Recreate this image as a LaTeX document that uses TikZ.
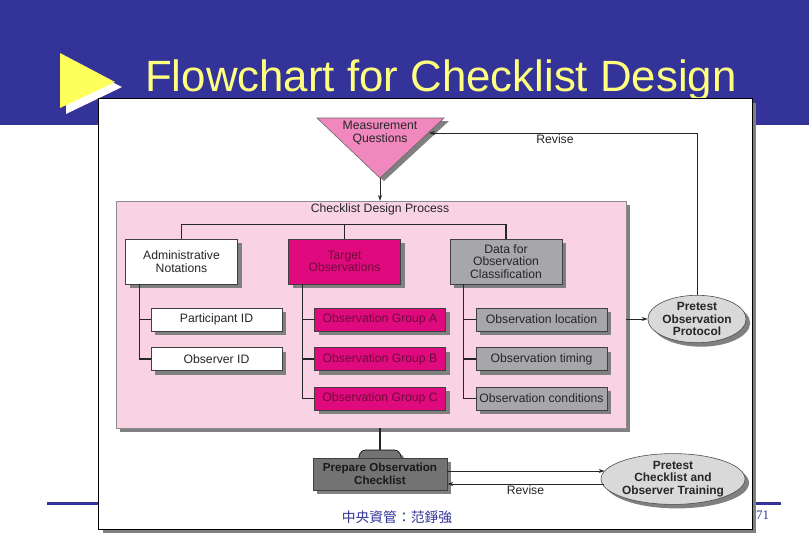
\documentclass[tikz,border=0pt]{standalone}
\usepackage{fontspec}
\setmainfont{Liberation Sans}
\newfontfamily\cjkfont{Noto Sans CJK TC}
\newfontfamily\pagefont{Liberation Serif}
\usetikzlibrary{shapes.geometric,shadows,arrows.meta}

\definecolor{slideblue}{HTML}{333399}
\definecolor{titleyellow}{HTML}{FFFF80}
\definecolor{arrowyellow}{HTML}{FFFF5C}
\definecolor{questpink}{HTML}{F088BE}
\definecolor{procpink}{HTML}{F9D3E4}
\definecolor{targetmag}{HTML}{DE0A7E}
\definecolor{targettext}{HTML}{6E0A38}
\definecolor{datagray}{HTML}{A7A7AB}
\definecolor{pretestgray}{HTML}{D9D9D9}
\definecolor{preparegray}{HTML}{737373}
\definecolor{shadegray}{HTML}{808080}

\begin{document}
\begin{tikzpicture}[x=1pt,y=-1pt,font=\fontsize{12.2}{12.6}\selectfont,
	shad/.style={drop shadow={shadow xshift=4pt,shadow yshift=-4pt,fill=shadegray,opacity=1}},
	box/.style={draw=black!75,line width=0.6pt,inner sep=0pt,align=center,text=black!85,shad},
	adminbox/.style={box,fill=white,minimum width=131pt,minimum height=23pt},
	targetbox/.style={box,fill=targetmag,text=targettext,minimum width=131pt,minimum height=23pt},
	databox/.style={box,fill=datagray,minimum width=131pt,minimum height=23pt},
	headbox/.style={minimum width=112pt,minimum height=45pt},
	pretest/.style={ellipse,draw=black!70,line width=0.6pt,fill=pretestgray,inner sep=0pt,align=center,text=black!85,font=\fontsize{11.9}{12.6}\selectfont\bfseries,shad},
	link/.style={line width=1.3pt,draw=black!85},
	flow/.style={line width=0.8pt,draw=black!85,-{Stealth[length=6pt,width=4pt]}}]
%	\draw[help lines,step=20] (0,0) grid (809,539);
	\useasboundingbox (0,0) rectangle (809,539);
	\fill[slideblue] (0,0) rectangle (809,125);
	\draw[slideblue,line width=3pt] (47,503) -- (781,503);
	\fill[white] (66,59) -- (122,87) -- (66,114) -- cycle;
	\fill[arrowyellow] (60,53) -- (115,82) -- (60,108) -- cycle;
	\node[anchor=base west,text=titleyellow,font=\fontsize{43.8}{44}\selectfont,inner sep=0pt] (title) at (145,91) {Flowchart for Checklist Design};

	\fill[shadegray] (103,103) rectangle (756,533);
	\draw[fill=white,line width=0.6pt] (98,98) rectangle (752,529);

	\coordinate (mqL) at (317,118); \coordinate (mqR) at (444,118); \coordinate (mqT) at (380,178);
	\coordinate (mqin) at (429,133);
	\fill[shadegray] (322,121) -- (449,121) -- (384,181) -- cycle;
	\draw[fill=questpink,line width=0.6pt,draw=black!60] (mqL) -- (mqR) -- (mqT) -- cycle;
	\node[align=center,text=black!85] (quest) at (380,133) {Measurement\\Questions};

	\node[draw=black!45,fill=procpink,minimum width=510pt,minimum height=227pt,inner sep=0pt,shad] (design) at (371,314.5) {};
	\node[text=black!85] (designlbl) at (380,209) {Checklist Design Process};
	\draw[flow] (mqT) -- (mqT |- design.north);

	\node[adminbox,headbox] (admin) at (181.5,261.5) {Administrative\\Notations};
	\node[targetbox,headbox] (targ) at (344.5,261.5) {Target\\Observations};
	\node[databox,headbox] (data) at (506,261.5) {Data for\\Observation\\Classification};
	\draw[link] (admin.north) -- ++(0,-14) -| (data.north);
	\draw[link] (targ.north) -- ++(0,-14);

	\node[adminbox] (partid) at (216.5,319.5) {Participant ID};
	\node[adminbox] (obsid) at (216.5,359) {Observer ID};
	\node[targetbox] (groupa) at (380,319.5) {Observation Group A};
	\node[targetbox] (groupb) at (380,359) {Observation Group B};
	\node[targetbox] (groupc) at (380,398.5) {Observation Group C};
	\node[databox] (loc) at (541.5,319.5) {Observation location};
	\node[databox] (timing) at (541.5,359) {Observation timing};
	\node[databox] (cond) at (541.5,398.5) {Observation conditions};

	\draw[link] ([xshift=14pt]admin.south west) |- (obsid.west);
	\draw[link] (partid.west) -- ++(-11,0);
	\draw[link] ([xshift=14pt]targ.south west) |- (groupc.west);
	\draw[link] (groupa.west) -- ++(-12,0) (groupb.west) -- ++(-12,0);
	\draw[link] ([xshift=14pt]data.south west) |- (cond.west);
	\draw[link] (loc.west) -- ++(-12,0) (timing.west) -- ++(-12,0);

	\node[pretest,minimum width=94pt,minimum height=44pt] (ppo) at (697,319) {Pretest\\Observation\\Protocol};
	\draw[flow] (ppo.west -| design.east) -- (ppo.west);
	\draw[flow] (ppo.north) |- node[pos=0.765,below,inner sep=1pt,text=black!85]{Revise} (mqin);

	\coordinate (preptab) at (380,450);
	\draw[fill=preparegray,line width=0.6pt,rounded corners=4pt,shad] (358,460) -- (361,450) -- (399,450) -- (402,460);
	\node[box,fill=preparegray,minimum width=134pt,minimum height=32pt,font=\fontsize{11.6}{12.6}\selectfont\bfseries,text=black!90] (prep) at (380,474) {Prepare Observation\\Checklist};
	\draw[link] (design.south -| preptab) -- (preptab);

	\node[pretest,minimum width=142pt,minimum height=44pt] (pco) at (673,479) {Pretest\\Checklist and\\Observer Training};
	\draw[flow] ([yshift=3pt]prep.east) -- ([yshift=3pt]prep.east -| pco.173);
	\draw[flow] ([yshift=-10pt]prep.east -| pco.186) -- node[below,inner sep=1pt,text=black!85]{Revise} ([yshift=-10pt]prep.east);

	\node[text=slideblue,font=\cjkfont\fontsize{13.8}{14}\selectfont] (footer) at (397,517) {中央資管：范錚強};
	\node[anchor=west,inner sep=0pt,text=slideblue,font=\pagefont\fontsize{13}{13}\selectfont] (pagenum) at (756,515) {71};
\end{tikzpicture}
\end{document}
